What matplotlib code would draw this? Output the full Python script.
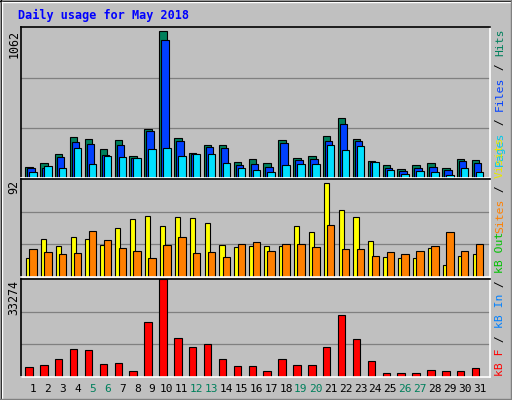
import numpy as np
import matplotlib.pyplot as plt
from matplotlib.lines import Line2D

days = np.arange(1, 32)
weekend_days = [5, 6, 12, 13, 19, 20, 26, 27]

hits = [80, 103, 173, 293, 279, 202, 272, 152, 349, 1040, 286, 180, 230, 230, 110, 131,
        103, 272, 138, 152, 300, 427, 279, 117, 89, 61, 89, 103, 68, 131, 124]
files = [73, 73, 145, 251, 237, 166, 230, 138, 335, 975, 265, 173, 216, 209, 89, 96,
         75, 244, 124, 131, 265, 384, 258, 110, 68, 47, 68, 75, 54, 117, 103]
pages = [40, 87, 73, 213, 96, 152, 145, 138, 202, 209, 159, 173, 173, 103, 68, 54,
         40, 89, 96, 96, 230, 195, 223, 110, 54, 26, 47, 40, 19, 68, 40]
visits = [18, 36, 29, 38, 36, 30, 46, 55, 58, 48, 57, 56, 51, 30, 28, 29,
          29, 29, 48, 42, 89, 63, 57, 34, 19, 18, 18, 27, 11, 20, 22]
sites = [26, 24, 22, 23, 43, 35, 27, 25, 18, 30, 38, 23, 24, 19, 31, 33,
         25, 31, 31, 28, 49, 26, 26, 20, 24, 22, 25, 29, 42, 25, 31]
kbytes = [3388, 4114, 6050, 9680, 9317, 4477, 4840, 1936, 18634, 33274, 13189, 10406,
          11374, 6050, 3751, 3751, 1936, 6292, 4114, 4114, 10406, 21175, 12947, 5566,
          1210, 1210, 1210, 2299, 1936, 1936, 3025]
max_hits, max_visits, max_kb = 1062, 92, 33274

W, H = 512, 400
BG = '#C0C0C0'
MONO = 'DejaVu Sans Mono'

fig = plt.figure(figsize=(W / 100, H / 100), dpi=100, facecolor=BG)


def fx(x):
    return x / W


def fy(y):
    return 1 - y / H


# outer bevel
for x0, y0, x1, y1, c in [(0, 0.5, 511.5, 0.5, 'black'), (0.5, 0, 0.5, 400, 'black'),
                          (1.5, 1.5, 510, 1.5, 'white'), (1.5, 1.5, 1.5, 398, 'white'),
                          (511.5, 0, 511.5, 400, 'black'), (0, 399.5, 512, 399.5, 'black'),
                          (510.5, 1, 510.5, 399, '#808080'), (1, 398.5, 511, 398.5, '#808080')]:
    fig.add_artist(Line2D([fx(x0), fx(x1)], [fy(y0), fy(y1)], color=c, lw=1))


def panel(top, bottom, ymax):
    ax = fig.add_axes([fx(21), fy(bottom), fx(490) - fx(21), (bottom - top) / H])
    ax.set_facecolor(BG)
    ax.set_xlim(0.2, 31.7)
    ax.set_ylim(0, ymax * 1.005)
    for f in (1 / 3, 2 / 3):
        ax.axhline(ymax * f, color='#808080', lw=0.9, zorder=0)
    ax.set_xticks([])
    ax.set_yticks([])
    for s in ('top', 'left'):
        ax.spines[s].set_color('black')
    for s in ('bottom', 'right'):
        ax.spines[s].set_color('white')
    for s in ax.spines.values():
        s.set_linewidth(1.2)
    return ax


bar_kw = dict(edgecolor='black', linewidth=0.8)

ax1 = panel(27, 178, max_hits)
ax1.bar(days - 0.27, hits, width=0.5, color='#00805C', **bar_kw)
ax1.bar(days - 0.13, files, width=0.5, color='#0040FF', **bar_kw)
ax1.bar(days, pages, width=0.5, color='#00E0FF', **bar_kw)

ax2 = panel(179, 277, max_visits)
ax2.bar(days - 0.3, visits, width=0.34, color='#FFFF00', **bar_kw)
ax2.bar(days, sites, width=0.5, color='#FF8000', **bar_kw)

ax3 = panel(279, 377, max_kb)
ax3.bar(days - 0.27, kbytes, width=0.5, color='#FF0000', **bar_kw)

# title
fig.text(fx(18), fy(15), 'Daily usage for May 2018', color='#0000FF', fontsize=8.5,
         fontweight='bold', family=MONO, va='center', ha='left')

# left max labels
for y, s in [(30, str(max_hits)), (180, str(max_visits)), (280, str(max_kb))]:
    fig.text(fx(14), fy(y), s, rotation=90, fontsize=8.4, family=MONO,
             va='top', ha='center')

# right legends (vertical, reading upward)
FS = 8.2
CH = FS * 0.602 * 100 / 72


def vlegend(x, y_bottom, segments):
    y = y_bottom
    for s, c in segments:
        fig.text(fx(x), fy(y), s, rotation=90, rotation_mode='anchor', fontsize=FS,
                 family=MONO, color=c, ha='left', va='center')
        y -= CH * len(s)


vlegend(500, 166, [('Pages', '#00C8E8'), (' / ', 'black'), ('Files', '#0040FF'),
                   (' / ', 'black'), ('Hits', '#00805C')])
vlegend(500, 233, [('Sites', '#FF8000'), (' / ', 'black'), ('Visits', '#E8E800')])
vlegend(500, 376, [('kB F', '#FF0000'), (' / ', 'black'), ('kB In', '#0080FF'),
                   (' / ', 'black'), ('kB Out', '#00C000')])

# day labels
for d in days:
    x = 21 + (d - 0.2) / 31.5 * 469
    c = '#00805C' if d in weekend_days else 'black'
    fig.text(fx(x), fy(389), str(d), fontsize=8, family=MONO, color=c,
             ha='center', va='center')

fig.savefig('out.png', dpi=100, facecolor=BG)
